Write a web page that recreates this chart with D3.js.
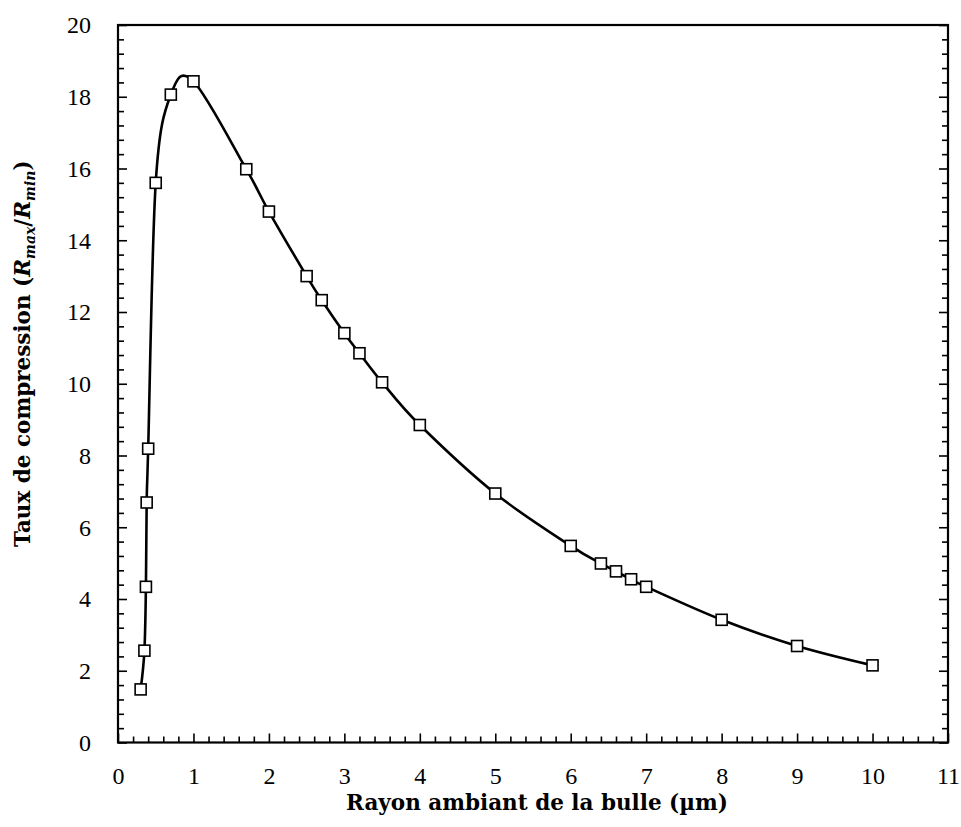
<!DOCTYPE html>
<html lang="fr">
<head>
<meta charset="UTF-8">
<script src="https://d3js.org/d3.v7.min.js"></script>
<title>Taux de compression</title>
<style>
  body { margin: 0; background: #fff; }
</style>
</head>
<body>
<div id="canvas"></div>
<script>
// rayon ambiant (µm) et taux de compression Rmax/Rmin
const radius = [0.3, 0.35, 0.37, 0.38, 0.4, 0.5, 0.7, 1.0, 1.7, 2.0, 2.5, 2.7, 3.0, 3.2, 3.5, 4.0, 5.0, 6.0, 6.4, 6.6, 6.8, 7.0, 8.0, 9.0, 10.0]
const ratio = [1.48, 2.56, 4.34, 6.69, 8.19, 15.6, 18.06, 18.43, 15.98, 14.8, 13.0, 12.33, 11.41, 10.85, 10.04, 8.85, 6.94, 5.48, 4.99, 4.77, 4.55, 4.34, 3.42, 2.69, 2.15]
const xTicks = [0, 1, 2, 3, 4, 5, 6, 7, 8, 9, 10, 11]
const yTicks = [0, 2, 4, 6, 8, 10, 12, 14, 16, 18, 20]

const W = 961, H = 827
const pLeft = 118, pRight = 948, pTop = 25, pBottom = 742.5

const svg = d3.select("#canvas").append("svg").attr("width", W).attr("height", H)

const x = d3.scaleLinear().domain([0, 11]).range([pLeft, pRight])
const y = d3.scaleLinear().domain([0, 20]).range([pBottom, pTop])

const xMinor = d3.range(0, 55).map(i => i / 5).filter(v => Math.abs(v - Math.round(v)) > 1e-6)
const yMinor = d3.range(0, 50).map(i => i * 0.4).filter(v => Math.abs(v / 2 - Math.round(v / 2)) > 1e-6)

// minor ticks
svg.append("g").attr("transform", `translate(0,${pBottom})`)
   .call(d3.axisBottom(x).tickValues(xMinor).tickSize(-6).tickFormat(""))
svg.append("g").attr("transform", `translate(${pLeft},0)`)
   .call(d3.axisLeft(y).tickValues(yMinor).tickSize(-6).tickFormat(""))
svg.append("g").attr("transform", `translate(${pRight},0)`)
   .call(d3.axisRight(y).tickValues(yMinor).tickSize(-6).tickFormat(""))

// major ticks with labels
const gx = svg.append("g").attr("transform", `translate(0,${pBottom})`)
   .call(d3.axisBottom(x).tickValues(xTicks).tickSize(-9).tickFormat(d3.format("d")))
gx.selectAll("text").attr("y", 41.5).attr("dy", null)

const gy = svg.append("g").attr("transform", `translate(${pLeft},0)`)
   .call(d3.axisLeft(y).tickValues(yTicks).tickSize(-9).tickFormat(d3.format("d")))
gy.selectAll("text").attr("x", -27).attr("dy", "0.33em")

svg.append("g").attr("transform", `translate(${pRight},0)`)
   .call(d3.axisRight(y).tickValues(yTicks).tickSize(-9).tickFormat(""))

svg.selectAll(".domain").remove()
svg.selectAll(".tick line").attr("stroke", "#000").attr("stroke-width", 1.6)
svg.selectAll(".tick text")
   .attr("fill", "#000")
   .style("font-family", "'Liberation Serif', serif")
   .style("font-size", "24px")

// frame
svg.append("rect")
   .attr("x", pLeft).attr("y", pTop)
   .attr("width", pRight - pLeft).attr("height", pBottom - pTop)
   .attr("fill", "none").attr("stroke", "#000").attr("stroke-width", 2.2)

// curve
const pts = radius.map((r, i) => [r, ratio[i]])
const line = d3.line().x(d => x(d[0])).y(d => y(d[1])).curve(d3.curveCardinal.tension(0))
svg.append("path").attr("d", line(pts))
   .attr("fill", "none").attr("stroke", "#000").attr("stroke-width", 2.6)

// markers
const s = 11
svg.selectAll(".pt").data(pts).enter().append("rect")
   .attr("class", "pt")
   .attr("x", d => x(d[0]) - s / 2)
   .attr("y", d => y(d[1]) - s / 2)
   .attr("width", s).attr("height", s)
   .attr("fill", "#fff").attr("stroke", "#000").attr("stroke-width", 1.6)

// axis titles
svg.append("text")
   .attr("x", 537).attr("y", 810)
   .attr("text-anchor", "middle")
   .style("font-family", "'DejaVu Serif', serif")
   .style("font-weight", "bold")
   .style("font-size", "21.5px")
   .text("Rayon ambiant de la bulle (µm)")

const yt = svg.append("text")
   .attr("transform", "translate(30,547) rotate(-90)")
   .attr("text-anchor", "start")
   .style("font-family", "'DejaVu Serif', serif")
   .style("font-weight", "bold")
   .style("font-size", "21.5px")
yt.append("tspan").text("Taux de compression (")
yt.append("tspan").style("font-style", "italic").text("R")
yt.append("tspan").style("font-style", "italic").style("font-size", "14px").attr("dy", 5).text("max")
yt.append("tspan").attr("dy", -5).text("/")
yt.append("tspan").style("font-style", "italic").text("R")
yt.append("tspan").style("font-style", "italic").style("font-size", "14px").attr("dy", 5).text("min")
yt.append("tspan").attr("dy", -5).text(")")
</script>
</body>
</html>
